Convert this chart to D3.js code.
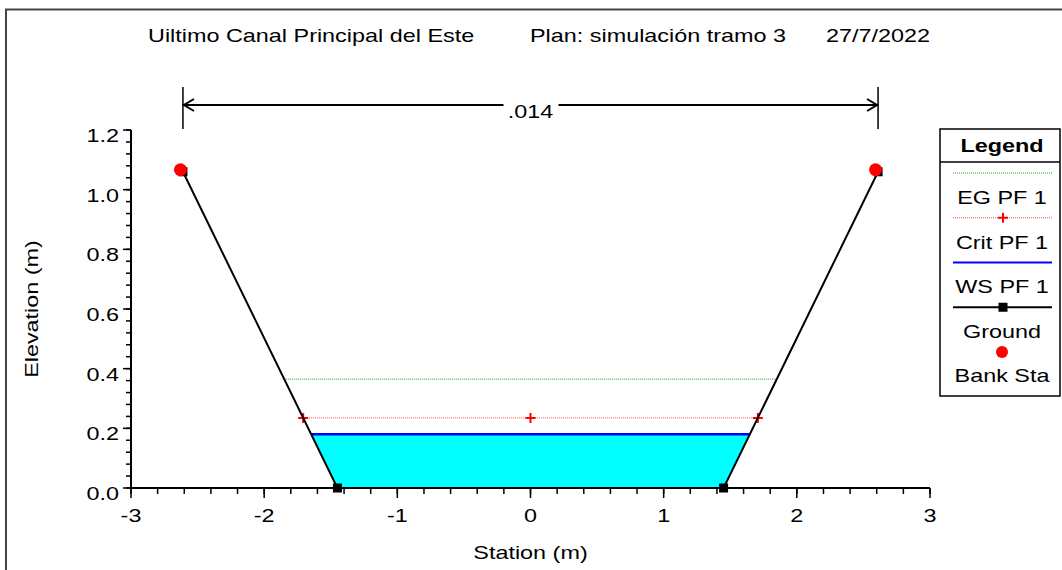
<!DOCTYPE html>
<html>
<head>
<meta charset="utf-8">
<script src="https://cdn.jsdelivr.net/npm/d3@7"></script>
<style>
  body { margin: 0; background: #fff; }
  svg { font-family: "Liberation Sans", Arial, sans-serif; }
  svg text { font-size: 18px; fill: #000; }
</style>
</head>
<body>
<div id="chart"></div>
<script>
/* Cross section values */
var groundSta = [-2.61, -1.45, 1.45, 2.61];
var groundElev = [1.06, 0, 0, 1.06];
var bankSta = [-2.61, 2.61];
var bankElev = [1.06, 1.06];
var wsElev = 0.18;      // WS PF 1
var critElev = 0.235;   // Crit PF 1
var egElev = 0.365;     // EG PF 1
var critMarkSta = [0];  // middle marker of the crit line
var manningN = [".014"];
var xTicks = [-3, -2, -1, 0, 1, 2, 3];
var yTicks = [0, 0.2, 0.4, 0.6, 0.8, 1.0, 1.2];
var legendNames = ["EG PF 1", "Crit PF 1", "WS PF 1", "Ground", "Bank Sta"];

var W = 1062, H = 570;
var STRETCH = 1.3;  // the original font is drawn wide
var svg = d3.select("#chart").append("svg").attr("width", W).attr("height", H);

/* wide text helper */
function txt(g, tx, ty, str, anchor, rot) {
  return g.append("text")
      .attr("transform", "translate(" + tx + "," + ty + ")" + (rot ? " rotate(" + rot + ")" : "") + " scale(" + STRETCH + ",1)")
      .attr("text-anchor", anchor || "start")
      .text(str);
}

/* outer frame, only top and left show */
svg.append("rect").attr("x", 6).attr("y", 9.5).attr("width", W + 20).attr("height", H + 20)
    .attr("fill", "none").attr("stroke", "#444").attr("stroke-width", 2);

var x = d3.scaleLinear().domain([-3, 3]).range([131, 930]);
var y = d3.scaleLinear().domain([0, 1.2]).range([488, 130]);

/* title */
var title = svg.append("g");
txt(title, 148, 42, "Uiltimo Canal Principal del Este");
txt(title, 530, 42, "Plan: simulación tramo 3");
txt(title, 826, 42, "27/7/2022");

/* ground points as objects */
var ground = groundSta.map(function(s, i) { return {s: s, e: groundElev[i]}; });

/* station where the ground reaches an elevation on each bank */
function bankAt(elev) {
  var l = ground[0], l2 = ground[1], r = ground[2], r2 = ground[3];
  var sl = l.s + (elev - l.e) * (l2.s - l.s) / (l2.e - l.e);
  var sr = r.s + (elev - r.e) * (r2.s - r.s) / (r2.e - r.e);
  return [sl, sr];
}

/* water fill */
var ws = bankAt(wsElev);
var water = [{s: ws[0], e: wsElev}, ground[1], ground[2], {s: ws[1], e: wsElev}];
svg.append("path")
    .attr("d", d3.line().x(function(d) { return x(d.s); }).y(function(d) { return y(d.e); })(water) + "Z")
    .attr("fill", "#00ffff");

/* EG line */
var eg = bankAt(egElev);
svg.append("line").attr("x1", x(eg[0])).attr("x2", x(eg[1]))
    .attr("y1", y(egElev)).attr("y2", y(egElev))
    .attr("stroke", "#229922").attr("stroke-width", 1).attr("stroke-dasharray", "1,1");

/* crit line */
var cr = bankAt(critElev);
svg.append("line").attr("x1", x(cr[0])).attr("x2", x(cr[1]))
    .attr("y1", y(critElev)).attr("y2", y(critElev))
    .attr("stroke", "#ff4d4d").attr("stroke-width", 1).attr("stroke-dasharray", "1,1");

function plus(g, cx, cy) {
  g.append("path").attr("d", "M" + (cx - 5) + "," + cy + "H" + (cx + 5) + "M" + cx + "," + (cy - 5) + "V" + (cy + 5))
      .attr("stroke", "#ff0000").attr("stroke-width", 2);
}
[cr[0]].concat(critMarkSta, [cr[1]]).forEach(function(s) { plus(svg, x(s), y(critElev)); });

/* WS line */
svg.append("line").attr("x1", x(ws[0])).attr("x2", x(ws[1]))
    .attr("y1", y(wsElev)).attr("y2", y(wsElev))
    .attr("stroke", "#0000ff").attr("stroke-width", 2.5);

/* axes */
var axes = svg.append("g");

var xa = axes.append("g");
xa.append("line").attr("x1", x(-3)).attr("x2", x(3)).attr("y1", y(0)).attr("y2", y(0))
    .attr("stroke", "#000").attr("stroke-width", 2);
xa.selectAll(".minor").data(d3.range(-3, 3.001, 0.2)).enter().append("line")
    .attr("x1", function(d) { return x(d); }).attr("x2", function(d) { return x(d); })
    .attr("y1", y(0)).attr("y2", y(0) + 6).attr("stroke", "#000").attr("stroke-width", 1.5);
xa.selectAll(".major").data(xTicks).enter().append("line")
    .attr("x1", function(d) { return x(d); }).attr("x2", function(d) { return x(d); })
    .attr("y1", y(0)).attr("y2", y(0) + 10).attr("stroke", "#000").attr("stroke-width", 1.5);
xTicks.forEach(function(d) { txt(xa, x(d), 522, d, "middle"); });

var ya = axes.append("g");
ya.append("line").attr("x1", x(-3)).attr("x2", x(-3)).attr("y1", y(0)).attr("y2", y(1.2))
    .attr("stroke", "#000").attr("stroke-width", 2);
ya.selectAll(".minor").data(d3.range(0, 1.2001, 0.04)).enter().append("line")
    .attr("y1", function(d) { return y(d); }).attr("y2", function(d) { return y(d); })
    .attr("x1", x(-3) - 5).attr("x2", x(-3)).attr("stroke", "#000").attr("stroke-width", 1.5);
ya.selectAll(".major").data(yTicks).enter().append("line")
    .attr("y1", function(d) { return y(d); }).attr("y2", function(d) { return y(d); })
    .attr("x1", x(-3) - 8).attr("x2", x(-3)).attr("stroke", "#000").attr("stroke-width", 1.5);
yTicks.forEach(function(d) { txt(ya, 119, y(d) + 12, d.toFixed(1), "end"); });

txt(axes, x(0), 559, "Station (m)", "middle");
txt(axes, 38, y(0.6), "Elevation (m)", "middle", -90);

/* ground line and markers */
svg.append("path")
    .attr("d", d3.line().x(function(d) { return x(d.s); }).y(function(d) { return y(d.e); })(ground))
    .attr("fill", "none").attr("stroke", "#000").attr("stroke-width", 2);
svg.selectAll(".gpt").data(ground).enter().append("rect")
    .attr("x", function(d) { return x(d.s) - 4.5; }).attr("y", function(d) { return y(d.e) - 4.5; })
    .attr("width", 9).attr("height", 9).attr("fill", "#000");

/* bank stations */
svg.selectAll(".bank").data(bankSta).enter().append("circle")
    .attr("cx", function(d) { return x(d) - 2.5; })
    .attr("cy", function(d, i) { return y(bankElev[i]) - 2; })
    .attr("r", 6.5).attr("fill", "#ff0000");

/* Manning's n dimension line between the bank stations */
var dimY = 105, x1 = x(bankSta[0]), x2 = x(bankSta[1]);
var dim = svg.append("g").attr("stroke", "#000").attr("fill", "none");
dim.append("line").attr("x1", x1).attr("x2", x1).attr("y1", 87).attr("y2", 129).attr("stroke-width", 1.5);
dim.append("line").attr("x1", x2).attr("x2", x2).attr("y1", 87).attr("y2", 129).attr("stroke-width", 1.5);
dim.append("line").attr("x1", x1).attr("x2", x2).attr("y1", dimY).attr("y2", dimY).attr("stroke-width", 2);
dim.append("path").attr("d", "M" + (x1 + 11) + "," + (dimY - 6) + "L" + (x1 + 1) + "," + dimY + "L" + (x1 + 11) + "," + (dimY + 6))
    .attr("stroke-width", 2);
dim.append("path").attr("d", "M" + (x2 - 11) + "," + (dimY - 6) + "L" + (x2 - 1) + "," + dimY + "L" + (x2 - 11) + "," + (dimY + 6))
    .attr("stroke-width", 2);
var nx = (x1 + x2) / 2;
svg.append("rect").attr("x", nx - 27).attr("y", dimY - 4).attr("width", 55).attr("height", 8).attr("fill", "#fff");
txt(svg, nx, 118, manningN[0], "middle");

/* legend */
var leg = svg.append("g");
leg.append("rect").attr("x", 940).attr("y", 129).attr("width", 120).attr("height", 267)
    .attr("fill", "#fff").attr("stroke", "#000").attr("stroke-width", 1.5);
leg.append("line").attr("x1", 940).attr("x2", 1060).attr("y1", 162).attr("y2", 162)
    .attr("stroke", "#000").attr("stroke-width", 1.5);
txt(leg, 1002, 152, "Legend", "middle").attr("font-weight", "bold");

var lx1 = 953, lx2 = 1052, lc = 1003;
var symY = d3.scalePoint().domain(legendNames).range([173, 352]);
var labY = d3.scalePoint().domain(legendNames).range([204, 382]);

leg.append("line").attr("x1", lx1).attr("x2", lx2).attr("y1", symY("EG PF 1")).attr("y2", symY("EG PF 1"))
    .attr("stroke", "#229922").attr("stroke-dasharray", "1,1");
leg.append("line").attr("x1", lx1).attr("x2", lx2).attr("y1", symY("Crit PF 1")).attr("y2", symY("Crit PF 1"))
    .attr("stroke", "#ff4d4d").attr("stroke-dasharray", "1,1");
plus(leg, lc, symY("Crit PF 1"));
leg.append("line").attr("x1", lx1).attr("x2", lx2).attr("y1", symY("WS PF 1")).attr("y2", symY("WS PF 1"))
    .attr("stroke", "#0000ff").attr("stroke-width", 2);
leg.append("line").attr("x1", lx1).attr("x2", lx2).attr("y1", symY("Ground")).attr("y2", symY("Ground"))
    .attr("stroke", "#000").attr("stroke-width", 2);
leg.append("rect").attr("x", lc - 4.5).attr("y", symY("Ground") - 4.5).attr("width", 9).attr("height", 9).attr("fill", "#000");
leg.append("circle").attr("cx", lc - 1).attr("cy", symY("Bank Sta")).attr("r", 6).attr("fill", "#ff0000");

legendNames.forEach(function(d) { txt(leg, 1002, labY(d), d, "middle"); });
</script>
</body>
</html>
